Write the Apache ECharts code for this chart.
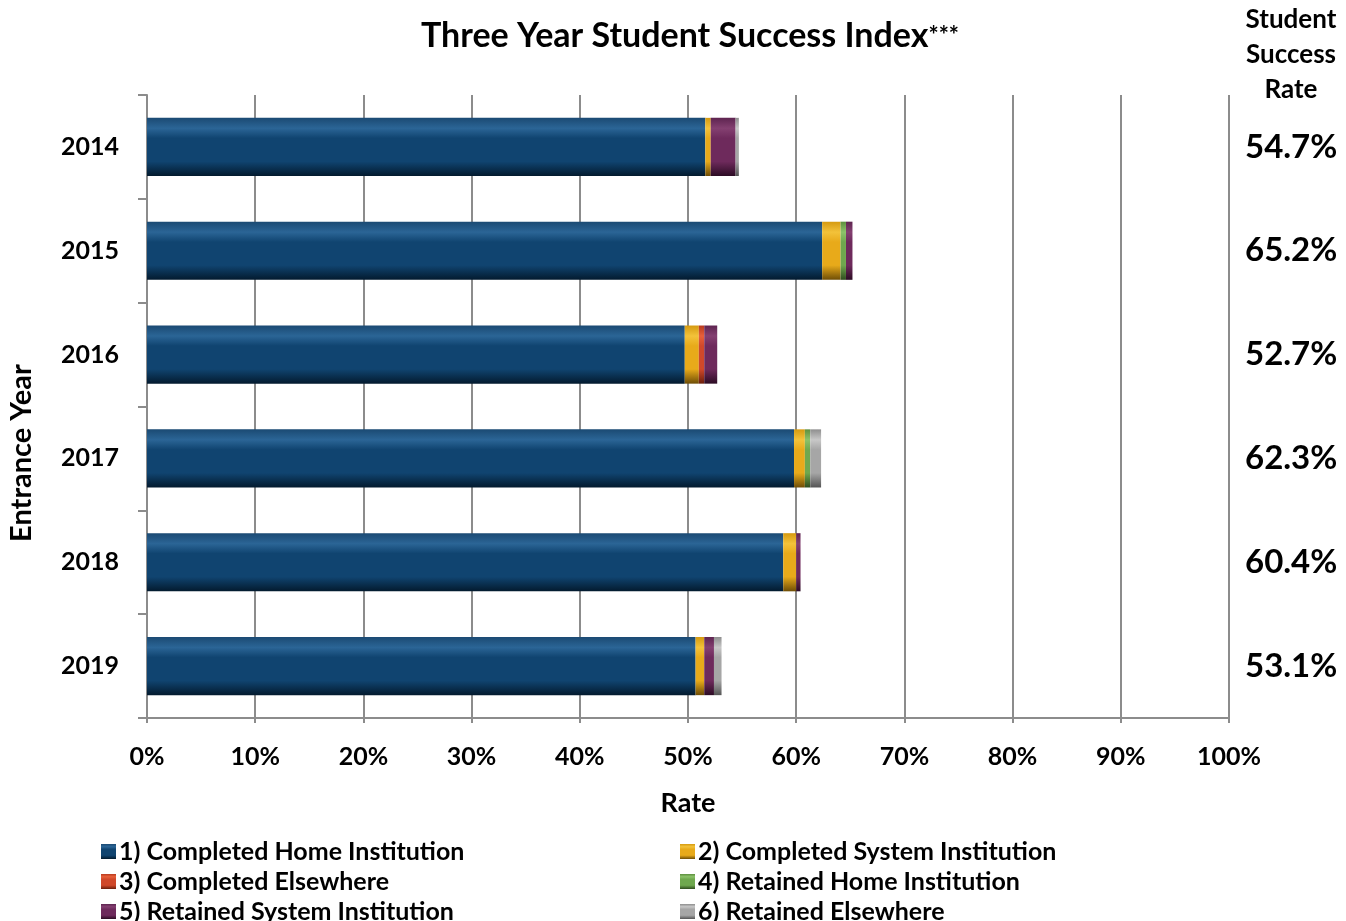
<!DOCTYPE html>
<html>
<head>
<meta charset="utf-8">
<script src="https://cdn.jsdelivr.net/npm/echarts@6/dist/echarts.min.js"></script>
<style>
  html, body { margin: 0; padding: 0; background: #ffffff; }
  #chart { width: 1346px; height: 921px; }
</style>
</head>
<body>
<div id="chart"></div>
<script>
// Entrance-year cohorts and their three-year outcome components (percent of cohort)
const years = ['2014', '2015', '2016', '2017', '2018', '2019'];
const completedHome   = [51.6, 62.4, 49.7, 59.8, 58.8, 50.7];
const completedSystem = [0.5, 1.7, 1.3, 1.0, 1.2, 0.8];
const completedElse   = [0, 0, 0.5, 0, 0, 0];
const retainedHome    = [0, 0.5, 0, 0.5, 0, 0];
const retainedSystem  = [2.3, 0.6, 1.2, 0, 0.4, 0.9];
const retainedElse    = [0.3, 0, 0, 1.0, 0, 0.7];
const successRate     = [54.7, 65.2, 52.7, 62.3, 60.4, 53.1];
const xTicks = [0, 10, 20, 30, 40, 50, 60, 70, 80, 90, 100];

const seriesNames = [
  '1) Completed Home Institution',
  '2) Completed System Institution',
  '3) Completed Elsewhere',
  '4) Retained Home Institution',
  '5) Retained System Institution',
  '6) Retained Elsewhere'
];
const seriesData = [completedHome, completedSystem, completedElse, retainedHome, retainedSystem, retainedElse];

// Cylinder-like shading for each colour: dark rim, bright band, body, dark base
function shade(top, band, mid, bottom) {
  return new echarts.graphic.LinearGradient(0, 0, 0, 1, [
    { offset: 0, color: top },
    { offset: 0.18, color: band },
    { offset: 0.35, color: mid },
    { offset: 0.75, color: mid },
    { offset: 1, color: bottom }
  ]);
}
const fills = [
  shade('#1b4a73', '#2b6596', '#104470', '#031a2e'),
  shade('#d59a10', '#f3c23a', '#e8aa1a', '#6e4d06'),
  shade('#b83a1e', '#e8603a', '#d0482a', '#6a1e0c'),
  shade('#5d8f3e', '#8cc26a', '#6fa84e', '#2f4c1e'),
  shade('#5e2450', '#844071', '#6e2a5c', '#2c0c24'),
  shade('#8e8e8e', '#c8c8c8', '#a6a6a6', '#555555')
];
const legendColors = ['#0f3f66', '#e0a016', '#c8401e', '#5f9a3e', '#6a2858', '#8a8a8a'];

const FONT = 'Lato, "Open Sans", sans-serif';

const series = seriesNames.map((name, i) => ({
  name: name,
  type: 'bar',
  stack: 'total',
  barCategoryGap: '44%',
  data: seriesData[i],
  itemStyle: { color: fills[i] }
}));

// Legend laid out as two columns of three rows
const legendSpots = [
  { left: 96, top: 834 }, { left: 675, top: 834 },
  { left: 96, top: 864 }, { left: 675, top: 864 },
  { left: 96, top: 894 }, { left: 675, top: 894 }
];
const legends = seriesNames.map((name, i) => ({
  data: [name],
  left: legendSpots[i].left,
  top: legendSpots[i].top,
  itemWidth: 15,
  itemHeight: 15,
  icon: 'rect',
  textStyle: { fontFamily: FONT, fontWeight: 'bold', fontSize: 25, color: '#000', padding: [0, 0, 0, -2] }
}));

const chart = echarts.init(document.getElementById('chart'), null, { renderer: 'canvas' });

chart.setOption({
  animation: false,
  backgroundColor: '#ffffff',
  color: legendColors,
  title: {
    text: '{t|Three Year Student Success Index}{s|***}',
    left: 685,
    textAlign: 'center',
    top: 14,
    textStyle: {
      rich: {
        t: { fontFamily: FONT, fontWeight: 'bold', fontSize: 34, color: '#000' },
        s: { fontFamily: FONT, fontWeight: 'bold', fontSize: 24, color: '#000' }
      }
    }
  },
  legend: legends,
  grid: { left: 147, right: 117, top: 95, bottom: 203, containLabel: false },
  xAxis: {
    type: 'value',
    min: 0,
    max: 100,
    interval: 10,
    name: 'Rate',
    nameLocation: 'middle',
    nameGap: 72,
    nameTextStyle: { fontFamily: FONT, fontWeight: 'bold', fontSize: 27, color: '#000' },
    axisLine: { show: true, lineStyle: { color: '#8c8c8c', width: 2 } },
    axisTick: { show: true, length: 5, lineStyle: { color: '#8c8c8c', width: 2 } },
    axisLabel: {
      margin: 26,
      fontFamily: FONT, fontWeight: 'bold', fontSize: 25, color: '#000',
      formatter: v => (xTicks.indexOf(v) >= 0 ? v + '%' : '')
    },
    splitLine: { show: true, lineStyle: { color: '#8c8c8c', width: 2 } }
  },
  yAxis: [
    {
      type: 'category',
      data: years,
      inverse: true,
      axisLine: { show: true, lineStyle: { color: '#8c8c8c', width: 2 } },
      axisTick: { show: true, length: 9, inside: false, lineStyle: { color: '#8c8c8c', width: 2 } },
      axisLabel: { margin: 28, fontFamily: FONT, fontWeight: 'bold', fontSize: 25, color: '#000' }
    },
    {
      type: 'category',
      data: years,
      inverse: true,
      position: 'right',
      axisLine: { show: false },
      axisTick: { show: false },
      axisLabel: {
        margin: 16,
        fontFamily: FONT, fontWeight: 'bold', fontSize: 33, color: '#000',
        formatter: (v, i) => successRate[i].toFixed(1) + '%'
      }
    }
  ],
  graphic: [
    {
      // column header above the success-rate labels
      type: 'text',
      x: 1291,
      y: 2,
      style: {
        text: 'Student\nSuccess\nRate',
        fontFamily: FONT, fontWeight: 'bold', fontSize: 26, lineHeight: 35,
        fill: '#000', align: 'center', verticalAlign: 'top'
      }
    },
    {
      // category axis title
      type: 'text',
      x: 22,
      y: 453,
      rotation: Math.PI / 2,
      style: {
        text: 'Entrance Year',
        fontFamily: FONT, fontWeight: 'bold', fontSize: 29,
        fill: '#000', align: 'center', verticalAlign: 'middle'
      }
    }
  ],
  series: series
});
</script>
</body>
</html>
